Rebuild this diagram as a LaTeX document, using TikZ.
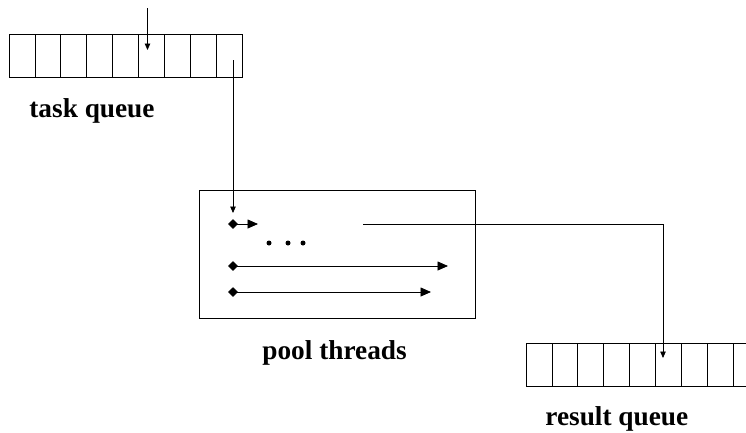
\documentclass[tikz,border=0pt]{standalone}
\usepackage{fontspec}
\setmainfont{Liberation Serif}
\usetikzlibrary{arrows.meta}
\begin{document}
\begin{tikzpicture}[x=1pt,y=-1pt,line width=0.8pt,
  lbl/.style={font=\fontsize{27.3}{30}\selectfont\bfseries,inner sep=0pt,anchor=base west},
  cell/.style={draw,minimum width=25.9pt,minimum height=43pt,inner sep=0pt,outer sep=0pt},
  poolbox/.style={draw,minimum width=276pt,minimum height=128pt,inner sep=0pt,outer sep=0pt},
  smallarr/.style={-{Triangle[length=6.5pt,width=5.5pt]}},
  thr/.style={{Diamond[length=10pt,width=9.5pt]}-{Triangle[length=10.5pt,width=9pt]}},
  dot/.style={circle,fill,inner sep=0pt,minimum size=5pt}]
\useasboundingbox (0,0) rectangle (746,432);
\clip (0,0) rectangle (746,432);
% task queue
\foreach \i in {1,...,9}{
  \node[cell] (tq\i) at ({9+25.9*(\i-0.5)},55.5) {};
}
\node[lbl] (tqlabel) at (29,117) {task queue};
% result queue
\foreach \i in {1,...,9}{
  \node[cell] (rq\i) at ({526+25.9*(\i-0.5)},364.5) {};
}
\node[lbl] (rqlabel) at (545,425.5) {result queue};
% pool
\node[poolbox] (pool) at (337,254) {};
\node[lbl] (plabel) at (262,359) {pool threads};
% threads
\coordinate (t1s) at (228,224);
\coordinate (t1e) at (258,224);
\coordinate (t2s) at (228,266);
\coordinate (t2e) at (448,266);
\coordinate (t3s) at (228,292);
\coordinate (t3e) at (431,292);
\draw[thr] (t1s) -- (t1e);
\draw[thr] (t2s) -- (t2e);
\draw[thr] (t3s) -- (t3e);
\node[dot] (d1) at (269,243) {};
\node[dot] (d2) at (288,243) {};
\node[dot] (d3) at (303,243) {};
% connectors
\coordinate (inTop) at (147.5,8);
\coordinate (inTip) at (147.5,50);
\draw[smallarr] (inTop) -- (inTip);
\coordinate (outTq) at (233,60);
\coordinate (poolIn) at (233,213);
\draw[smallarr] (outTq) -- (poolIn);
\coordinate (res1) at (363,224);
\coordinate (res2) at (663,224);
\coordinate (resTip) at (663,358);
\draw[smallarr] (res1) -- (res2) -- (resTip);
\end{tikzpicture}
\end{document}
